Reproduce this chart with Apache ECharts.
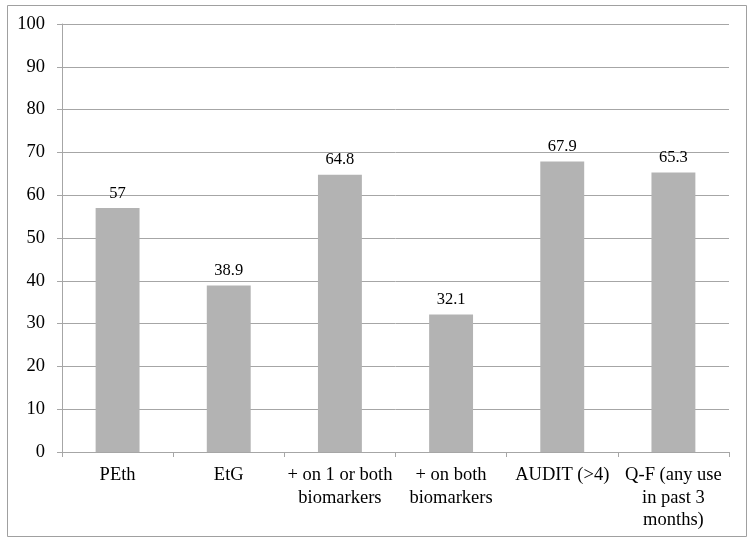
<!DOCTYPE html>
<html><head><meta charset="utf-8">
<script src="https://cdn.jsdelivr.net/npm/echarts@6/dist/echarts.min.js"></script>
<style>html,body{margin:0;padding:0;background:#fff}#c{width:754px;height:545px}</style>
</head><body><div id="c"></div>
<script>
var categories = ['PEth', 'EtG', '+ on 1 or both\nbiomarkers', '+ on both\nbiomarkers', 'AUDIT (>4)', 'Q-F (any use\nin past 3\nmonths)'];
var values = [57, 38.9, 64.8, 32.1, 67.9, 65.3];
var yTicks = [0, 10, 20, 30, 40, 50, 60, 70, 80, 90, 100];

var chart = echarts.init(document.getElementById('c'), null, {renderer: 'canvas'});
var font = '"Liberation Serif", "Times New Roman", serif';
chart.setOption({
  animation: false,
  graphic: [{
    type: 'rect', shape: {x: 7.5, y: 5.5, width: 739, height: 531},
    style: {fill: 'none', stroke: '#a0a0a0', lineWidth: 1}
  }],
  grid: {left: 62, right: 25, top: 24, bottom: 93},
  xAxis: {
    type: 'category', data: categories,
    axisLine: {show: true, lineStyle: {color: '#a6a6a6', width: 1}},
    axisTick: {show: true, length: 5, alignWithLabel: false, lineStyle: {color: '#a6a6a6'}},
    axisLabel: {interval: 0, color: '#000', fontFamily: font, fontSize: 18.5, lineHeight: 22.5, margin: 12}
  },
  yAxis: {
    type: 'value', min: yTicks[0], max: yTicks[yTicks.length - 1], interval: 10,
    axisLine: {show: true, lineStyle: {color: '#a6a6a6', width: 1}},
    axisTick: {show: true, length: 5, lineStyle: {color: '#a6a6a6'}},
    splitLine: {show: true, lineStyle: {color: '#a6a6a6', width: 1}},
    axisLabel: {color: '#000', fontFamily: font, fontSize: 18.5, margin: 17}
  },
  series: [{
    type: 'bar', data: values, barWidth: '39.5%',
    itemStyle: {color: '#b3b3b3'},
    label: {show: true, position: 'top', distance: 6, color: '#000', fontFamily: font, fontSize: 16.5}
  }]
});
</script></body></html>
